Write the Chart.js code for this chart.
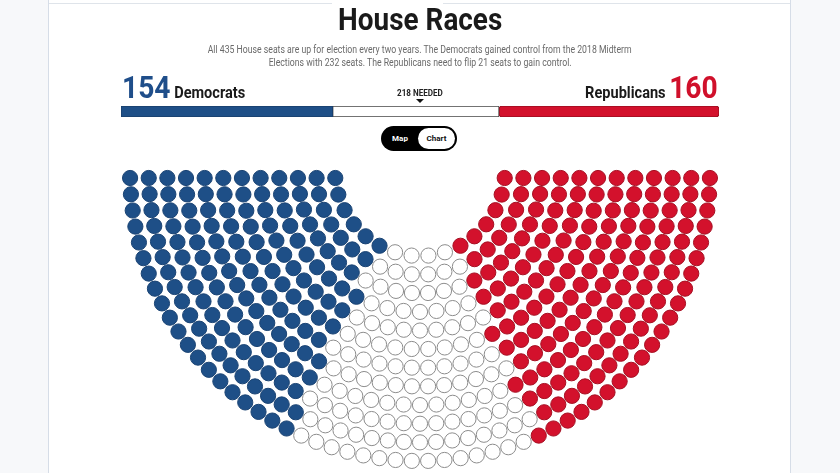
<!DOCTYPE html>
<html><head><meta charset="utf-8">
<script src="https://cdn.jsdelivr.net/npm/chart.js@4.4.1/dist/chart.umd.min.js"></script>
<style>
html,body{margin:0;padding:0;width:840px;height:473px;overflow:hidden;background:#fff;font-family:Roboto,"Noto Sans",sans-serif;}
#lp{position:absolute;left:0;top:0;width:48px;height:473px;background:#f7f8fa;border-right:1px solid #d6dde7;}
#rp{position:absolute;left:790px;top:0;width:50px;height:473px;background:#f7f8fa;border-left:1px solid #d6dde7;}
.tl{position:absolute;top:3px;height:1px;background:#dfe4ea;}
.c{position:absolute;left:0;width:840px;text-align:center;white-space:nowrap;z-index:2;}
.c span{display:inline-block;}
#title{line-height:31px;font-size:31px;}
#title span{font-weight:700;font-size:31px;line-height:31px;color:#1a1a1a;transform:scaleX(0.9);}
#sub{line-height:13px;font-size:10px;}
#sub span{font-size:10px;line-height:13px;color:#6a6a6a;font-weight:400;transform:scaleX(0.87);}
#dem{position:absolute;left:122px;top:72px;white-space:nowrap;transform:scaleX(0.91);transform-origin:left center;z-index:2;line-height:31px;}
#rep{position:absolute;right:122px;top:72px;white-space:nowrap;transform:scaleX(0.91);transform-origin:right center;z-index:2;line-height:31px;}
.big{font-weight:700;font-size:31px;line-height:31px;}
.lab{font-weight:700;font-size:16px;color:#1a1a1a;}
#need{line-height:11px;font-size:9.5px;}
#need span{font-weight:700;font-size:9.5px;line-height:11px;color:#222;transform:scaleX(0.85);}
#tri{position:absolute;left:416px;top:99px;width:0;height:0;border-left:4px solid transparent;border-right:4px solid transparent;border-top:4px solid #111;z-index:2;}
#bar{position:absolute;left:121px;top:106px;z-index:2;}
#seats{position:absolute;left:0;top:0;z-index:1;}
#tog{position:absolute;left:381px;top:126px;width:76px;height:25px;border-radius:13px;background:#000;z-index:2;}
#tog .on{position:absolute;left:37px;top:2px;width:37px;height:21px;border-radius:11px;background:#fff;}
#tog .m{position:absolute;left:0;width:38px;top:0;line-height:25px;text-align:center;color:#fff;font-weight:700;font-size:8px;}
#tog .ch{position:absolute;left:37px;width:37px;top:0;line-height:25px;text-align:center;color:#111;font-weight:700;font-size:8px;}
</style></head>
<body>
<div id="lp"></div><div id="rp"></div>
<div class="tl" style="left:49px;width:283px"></div>
<div class="tl" style="left:443px;width:347px"></div>
<canvas id="seats" width="840" height="473"></canvas>
<div class="c" id="title" style="top:4px"><span>House Races</span></div>
<div class="c" id="sub" style="top:43px"><span>All 435 House seats are up for election every two years. The Democrats gained control from the 2018 Midterm</span><br><span>Elections with 232 seats. The Republicans need to flip 21 seats to gain control.</span></div>
<div id="dem"><span class="big" id="demN" style="color:#1f4e8a"></span> <span class="lab" id="demL"></span></div>
<div id="rep"><span class="lab" id="repL"></span> <span class="big" id="repN" style="color:#d0102b"></span></div>
<div class="c" id="need" style="top:87px"><span id="needT"></span></div>
<div id="tri"></div>
<canvas id="bar" width="598" height="11"></canvas>
<div id="tog"><div class="on"></div><div class="m">Map</div><div class="ch">Chart</div></div>
<script>
// ---- data ----
const parties = ['Democrats', 'Undecided', 'Republicans'];
const seats = [154, 121, 160];
const totalSeats = 435;
const neededSeats = 218;
const partyFill = ['#1e4f87', '#ffffff', '#d3112c'];
const partyEdge = ['#1a4373', '#8c8c8c', '#a50f22'];

// ---- text from data ----
document.getElementById('demN').textContent = seats[0];
document.getElementById('demL').textContent = parties[0];
document.getElementById('repN').textContent = seats[2];
document.getElementById('repL').textContent = parties[2];
document.getElementById('needT').textContent = neededSeats + ' NEEDED';

// ---- parliament layout (12 concentric lower half-rings) ----
const ROWS = 12, R_IN = 85, R_OUT = 290, TOP_OFF = 7;
function layoutSeats(total) {
  const radii = [];
  for (let i = 0; i < ROWS; i++) radii.push(R_IN + i * (R_OUT - R_IN) / (ROWS - 1));
  const sumR = radii.reduce((a, b) => a + b, 0);
  const raw = radii.map(r => total * r / sumR);
  const n = raw.map(Math.floor);
  let rem = total - n.reduce((a, b) => a + b, 0);
  const order = raw.map((v, i) => [v - Math.floor(v), i]).sort((a, b) => b[0] - a[0]);
  for (let k = 0; k < rem; k++) n[order[k][1]]++;
  const pts = [];
  radii.forEach((r, i) => {
    const a0 = Math.asin(TOP_OFF / r);
    const step = (Math.PI - 2 * a0) / (n[i] - 1);
    for (let j = 0; j < n[i]; j++) {
      const a = a0 + j * step;
      pts.push({ a: a, r: r, x: -r * Math.cos(a), y: -r * Math.sin(a) });
    }
  });
  pts.sort((p, q) => (p.a - q.a) || (p.r - q.r));
  return pts;
}
const allSeats = layoutSeats(totalSeats);
let idx = 0;
const seatData = seats.map(cnt => {
  const d = allSeats.slice(idx, idx + cnt).map(p => ({ x: p.x, y: p.y }));
  idx += cnt;
  return d;
});

new Chart(document.getElementById('seats'), {
  type: 'scatter',
  data: {
    datasets: parties.map((p, k) => ({
      label: p, data: seatData[k],
      backgroundColor: partyFill[k], borderColor: partyEdge[k],
      borderWidth: 1, pointRadius: 7.6, pointHoverRadius: 7.6, clip: false
    }))
  },
  options: {
    responsive: false, animation: false, events: [],
    layout: { padding: 0, autoPadding: false },
    plugins: { legend: { display: false }, tooltip: { enabled: false } },
    scales: {
      x: { type: 'linear', min: -420, max: 420, display: false },
      y: { type: 'linear', min: -302, max: 171, display: false }
    }
  }
});

// ---- seat bar ----
const barFill = ['#1e4f87', '#ffffff', '#d3112c'];
const barEdge = ['#1a3f6b', '#444444', '#9c0e20'];
new Chart(document.getElementById('bar'), {
  type: 'bar',
  data: {
    labels: ['House'],
    datasets: parties.map((p, k) => ({
      label: p, data: [seats[k]],
      backgroundColor: barFill[k], borderColor: barEdge[k],
      borderWidth: 1, borderSkipped: false, borderRadius: 3,
      barPercentage: 1, categoryPercentage: 1
    }))
  },
  options: {
    indexAxis: 'y', responsive: false, animation: false, events: [],
    layout: { padding: 0, autoPadding: false },
    plugins: { legend: { display: false }, tooltip: { enabled: false } },
    scales: {
      x: { stacked: true, min: 0, max: totalSeats, display: false },
      y: { stacked: true, display: false }
    }
  }
});
</script>
</body></html>
